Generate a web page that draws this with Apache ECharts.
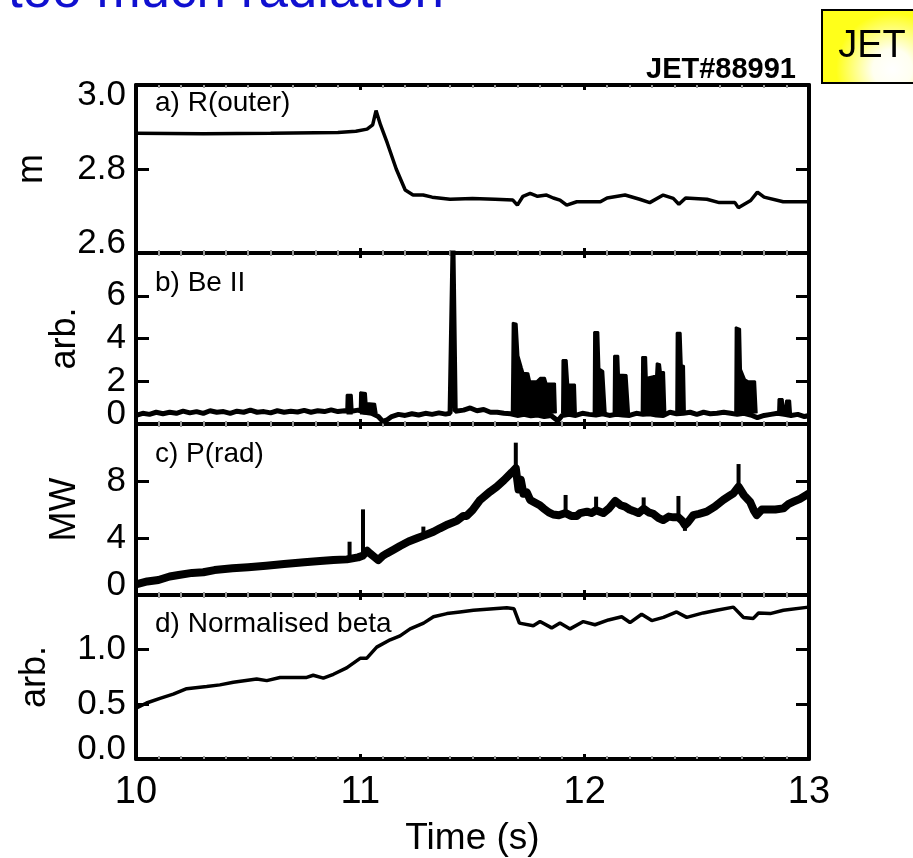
<!DOCTYPE html>
<html>
<head>
<meta charset="utf-8">
<script src="https://cdn.jsdelivr.net/npm/echarts@6/dist/echarts.min.js"></script>
<style>
html,body{margin:0;padding:0;background:#fff;}
#chart{width:913px;height:858px;}
</style>
</head>
<body>
<div id="chart"></div>
<script>
// ---------- data ----------
const xTicks = [10, 11, 12, 13];

// a) R(outer) [m]
const aTime = [10.00,10.30,10.60,10.90,10.98,11.03,11.055,11.07,11.09,11.12,11.16,11.20,11.235,11.28,11.32,11.40,11.50,11.60,11.68,11.70,11.725,11.757,11.79,11.83,11.86,11.89,11.92,11.965,12.07,12.10,12.18,12.245,12.29,12.35,12.395,12.42,12.45,12.545,12.60,12.67,12.685,12.74,12.77,12.80,12.885,13.00];
const aVal  = [2.885,2.884,2.885,2.887,2.890,2.895,2.905,2.939,2.905,2.862,2.800,2.750,2.738,2.738,2.733,2.728,2.730,2.728,2.726,2.714,2.735,2.742,2.735,2.738,2.731,2.726,2.714,2.722,2.722,2.731,2.738,2.728,2.720,2.738,2.730,2.716,2.731,2.728,2.720,2.720,2.708,2.725,2.745,2.733,2.722,2.722];

// b) Be II baseline [arb.]
const bTime = [10.00,10.03,10.06,10.09,10.12,10.15,10.18,10.21,10.24,10.27,10.30,10.33,10.36,10.39,10.42,10.45,10.48,10.51,10.54,10.57,10.60,10.63,10.66,10.69,10.72,10.75,10.78,10.81,10.84,10.87,10.90,10.93,10.96,10.99,11.02,11.05,11.08,11.10,11.12,11.14,11.17,11.20,11.23,11.26,11.29,11.32,11.35,11.38,11.40,11.408,11.413,11.418,11.423,11.46,11.49,11.52,11.55,11.58,11.61,11.64,11.67,11.70,11.73,11.76,11.79,11.82,11.85,11.88,11.90,11.93,11.96,11.99,12.02,12.05,12.08,12.11,12.14,12.17,12.20,12.23,12.26,12.29,12.32,12.35,12.38,12.41,12.44,12.47,12.50,12.53,12.56,12.59,12.62,12.65,12.68,12.71,12.74,12.77,12.80,12.83,12.86,12.89,12.92,12.95,12.98,13.00];
const bVal  = [0.40,0.50,0.45,0.55,0.48,0.55,0.50,0.60,0.52,0.58,0.50,0.62,0.55,0.58,0.50,0.60,0.55,0.65,0.55,0.58,0.52,0.62,0.55,0.60,0.56,0.64,0.55,0.62,0.58,0.66,0.58,0.62,0.60,0.65,0.55,0.50,0.35,0.12,0.20,0.35,0.45,0.40,0.48,0.42,0.50,0.45,0.52,0.46,0.50,0.50,8.20,8.20,0.60,0.65,0.75,0.62,0.68,0.55,0.55,0.50,0.48,0.40,0.45,0.38,0.42,0.35,0.40,0.15,0.40,0.45,0.40,0.50,0.45,0.42,0.48,0.40,0.45,0.42,0.40,0.50,0.45,0.48,0.42,0.40,0.55,0.48,0.50,0.55,0.45,0.55,0.48,0.50,0.55,0.50,0.45,0.50,0.42,0.30,0.40,0.45,0.50,0.45,0.40,0.45,0.35,0.40];

// b) Be II bursts (envelopes, null separates bursts)
const bBurstTime = [10.937,10.939,10.962,10.966,null,
  10.997,10.999,11.025,11.028,11.066,11.073,null,
  11.675,11.679,11.697,11.705,11.720,11.727,11.749,11.757,11.786,11.801,11.823,11.830,11.868,11.872,null,
  11.899,11.901,11.920,11.927,11.957,11.961,null,
  12.040,12.042,12.061,12.066,12.083,12.094,null,
  12.129,12.131,12.150,12.153,12.187,12.198,null,
  12.254,12.256,12.274,12.277,12.306,12.318,12.321,12.336,12.340,12.354,12.360,null,
  12.408,12.410,12.428,12.433,12.443,12.447,null,
  12.671,12.673,12.693,12.697,12.715,12.730,12.760,12.767,null,
  12.862,12.864,12.883,12.889,12.896,12.898,12.916,12.920];
const bBurstVal = [0.6,1.37,1.37,0.6,null,
  0.6,1.48,1.45,0.98,0.95,0.5,null,
  0.5,4.74,4.69,3.19,2.64,2.40,2.37,2.00,2.00,2.16,2.16,1.90,1.90,0.5,null,
  0.5,2.99,2.99,1.85,1.85,0.5,null,
  0.5,4.30,4.30,2.59,2.48,0.5,null,
  0.5,3.19,3.19,2.32,2.29,0.5,null,
  0.5,3.14,3.14,2.16,2.24,2.24,2.84,2.80,2.43,2.43,0.5,null,
  0.5,4.27,4.27,2.75,2.72,0.5,null,
  0.5,4.53,4.45,2.56,2.09,2.00,2.00,0.5,null,
  0.5,1.17,1.17,0.5,0.5,1.10,1.10,0.5];

// c) P(rad) [MW] main trace
const cTime = [10.00,10.05,10.10,10.15,10.19,10.25,10.30,10.35,10.43,10.50,10.58,10.66,10.75,10.82,10.88,10.94,10.99,11.01,11.03,11.043,11.06,11.08,11.10,11.118,11.15,11.177,11.215,11.252,11.28,11.326,11.355,11.39,11.43,11.459,11.474,11.50,11.534,11.578,11.608,11.64,11.675,11.693,11.705,11.715,11.727,11.742,11.757,11.771,11.80,11.816,11.84,11.86,11.885,11.915,11.94,11.965,11.98,12.01,12.03,12.051,12.083,12.11,12.136,12.16,12.18,12.20,12.217,12.24,12.263,12.285,12.306,12.33,12.35,12.375,12.396,12.418,12.435,12.447,12.46,12.485,12.51,12.544,12.58,12.618,12.645,12.663,12.686,12.71,12.737,12.755,12.767,12.79,12.812,12.85,12.886,12.91,12.931,12.96,13.00];
const cVal  = [0.75,0.95,1.05,1.30,1.40,1.55,1.60,1.75,1.87,1.95,2.05,2.17,2.30,2.38,2.46,2.50,2.64,2.75,3.10,2.92,2.70,2.45,2.75,2.92,3.20,3.44,3.75,3.98,4.15,4.44,4.68,4.95,5.20,5.55,5.55,5.95,6.67,7.25,7.60,8.05,8.60,8.90,7.40,8.10,7.10,7.20,6.67,6.55,6.30,6.08,5.80,5.65,5.60,5.75,5.55,5.55,5.75,5.85,5.75,5.95,5.75,6.10,6.60,6.30,6.20,6.00,5.90,5.75,6.05,5.80,5.70,5.40,5.26,5.50,5.45,5.45,5.20,4.90,5.10,5.61,5.70,5.85,6.20,6.67,6.95,7.13,7.60,7.00,6.55,5.90,5.61,6.00,6.00,6.00,6.08,6.40,6.55,6.75,7.13];
// c) P(rad) narrow spikes (pairs: foot, tip; null separates)
const cSpikeTime = [10.952,10.952,null,11.012,11.012,null,11.281,11.281,null,11.693,11.693,null,11.915,11.915,null,12.051,12.051,null,12.263,12.263,null,12.418,12.418,null,12.447,12.447,null,12.686,12.686];
const cSpikeVal  = [2.50,3.74,null,2.75,6.01,null,4.15,4.80,null,8.90,10.69,null,5.75,7.02,null,5.95,6.90,null,6.05,6.85,null,5.45,6.95,null,5.20,4.50,null,7.60,9.19];

// d) Normalised beta [arb.]
const dTime = [10.003,10.047,10.107,10.166,10.226,10.315,10.374,10.434,10.538,10.583,10.642,10.761,10.79,10.835,10.88,10.939,10.999,11.028,11.073,11.133,11.177,11.222,11.282,11.326,11.386,11.444,11.504,11.593,11.653,11.685,11.709,11.771,11.801,11.853,11.89,11.935,11.994,12.046,12.106,12.165,12.202,12.254,12.299,12.351,12.41,12.455,12.529,12.589,12.663,12.708,12.752,12.775,12.827,12.886,12.998];
const dVal  = [0.468,0.512,0.555,0.593,0.643,0.664,0.678,0.702,0.731,0.717,0.746,0.746,0.766,0.740,0.775,0.833,0.921,0.921,1.023,1.090,1.126,1.190,1.243,1.301,1.330,1.345,1.360,1.374,1.383,1.374,1.243,1.219,1.257,1.199,1.243,1.190,1.257,1.228,1.272,1.301,1.248,1.324,1.266,1.295,1.345,1.295,1.336,1.360,1.389,1.295,1.286,1.336,1.330,1.360,1.389];

// y-axis settings per panel
const panelNames  = ['a) R(outer)', 'b) Be II', 'c) P(rad)', 'd) Normalised beta'];
const yUnits      = ['m', 'arb.', 'MW', 'arb.'];
const yMin        = [2.6, 0, 0, 0];
const yMax        = [3.0, 8, 12, 1.5];
const yInterval   = [0.2, 2, 4, 0.5];
const yDecimals   = [1, 0, 0, 1];

// ---------- layout ----------
const gridTop    = [85, 253, 424, 595];
const gridHeight = [168, 171, 171, 170];
const nameGaps   = [86, 53, 53, 83];
const labelY     = [103, 283, 454, 624];
const SANS = '"Liberation Sans", Arial, Helvetica, sans-serif';
const TICK_FONT = 35;

const zip = (t, v) => t.map((x, i) => [x, v[i]]);
const splitSegs = (t, v) => {
  const out = []; let s = [];
  t.forEach((x, i) => {
    if (x === null) { if (s.length) out.push(s); s = []; }
    else s.push([x, v[i]]);
  });
  if (s.length) out.push(s);
  return out;
};

const grids = [], xAxes = [], yAxes = [], series = [];
for (let i = 0; i < 4; i++) {
  grids.push({left: 136, right: 104, top: gridTop[i], height: gridHeight[i]});
  const xCommon = {
    type: 'value', gridIndex: i, min: xTicks[0], max: xTicks[xTicks.length - 1], interval: 1,
    axisLine: {show: true, onZero: false, lineStyle: {color: '#000', width: 4}},
    axisTick: {show: true, inside: true, length: 5, lineStyle: {color: '#000', width: 3}},
    minorTick: {show: true, splitNumber: 10, length: 3, lineStyle: {color: '#999', width: 2}},
    splitLine: {show: false}
  };
  xAxes.push(Object.assign({}, xCommon, {
    position: 'bottom',
    axisLabel: {show: i === 3, fontSize: 38, margin: 15, color: '#000', fontFamily: SANS},
    name: i === 3 ? 'Time (s)' : '', nameLocation: 'middle', nameGap: 61,
    nameTextStyle: {fontSize: 37, color: '#000', fontFamily: SANS}
  }));
  xAxes.push(Object.assign({}, xCommon, {position: 'top', axisLabel: {show: false}}));
  const dec = yDecimals[i];
  const yCommon = {
    type: 'value', gridIndex: i, min: yMin[i], max: yMax[i], interval: yInterval[i],
    axisLine: {show: true, onZero: false, lineStyle: {color: '#000', width: 4}},
    axisTick: {show: true, inside: true, length: 13, lineStyle: {color: '#000', width: 3}},
    splitLine: {show: false}
  };
  // main left axis: all labels except the minimum
  yAxes.push(Object.assign({}, yCommon, {
    position: 'left',
    axisLabel: {
      show: true, fontSize: TICK_FONT, lineHeight: 20, color: '#000', fontFamily: SANS, margin: 10,
      showMaxLabel: i === 0, showMinLabel: false, hideOverlap: false,
      verticalAlignMaxLabel: 'top',
      formatter: v => v.toFixed(dec)
    },
    name: yUnits[i], nameLocation: 'middle', nameRotate: 90, nameGap: nameGaps[i],
    nameTextStyle: {fontSize: 36, color: '#000', fontFamily: SANS}
  }));
  // right mirror axis
  yAxes.push(Object.assign({}, yCommon, {position: 'right', axisLabel: {show: false}}));
  // label-only axis for the minimum label, lifted above the corner
  yAxes.push({
    type: 'value', gridIndex: i, min: yMin[i], max: yMax[i], interval: yMax[i] - yMin[i],
    position: 'left',
    axisLine: {show: false}, axisTick: {show: false}, splitLine: {show: false},
    axisLabel: {
      show: true, fontSize: TICK_FONT, lineHeight: 20, color: '#000', fontFamily: SANS, margin: 10,
      showMinLabel: true, showMaxLabel: false, verticalAlignMinLabel: 'bottom',
      formatter: v => v.toFixed(dec)
    }
  });
}

const lineBase = {type: 'line', showSymbol: false, symbol: 'none', silent: true, clip: true};
const yIdx = i => 3 * i;
series.push(Object.assign({}, lineBase, {xAxisIndex: 0, yAxisIndex: yIdx(0), data: zip(aTime, aVal), lineStyle: {color: '#000', width: 3.5}}));
series.push(Object.assign({}, lineBase, {xAxisIndex: 2, yAxisIndex: yIdx(1), data: zip(bTime, bVal), lineStyle: {color: '#000', width: 5, join: 'bevel'}}));
splitSegs(bBurstTime, bBurstVal).forEach(s => {
  series.push(Object.assign({}, lineBase, {
    xAxisIndex: 2, yAxisIndex: yIdx(1), data: s,
    lineStyle: {color: '#000', width: 2, join: 'bevel'},
    areaStyle: {color: '#000', opacity: 1, origin: 0.45}
  }));
});
series.push(Object.assign({}, lineBase, {xAxisIndex: 4, yAxisIndex: yIdx(2), data: zip(cTime, cVal), lineStyle: {color: '#000', width: 8, join: 'round'}}));
splitSegs(cSpikeTime, cSpikeVal).forEach(s => {
  series.push(Object.assign({}, lineBase, {
    xAxisIndex: 4, yAxisIndex: yIdx(2), data: s,
    lineStyle: {color: '#000', width: 4, cap: 'butt'}
  }));
});
series.push(Object.assign({}, lineBase, {xAxisIndex: 6, yAxisIndex: yIdx(3), data: zip(dTime, dVal), lineStyle: {color: '#000', width: 3.5}}));

const graphics = [
  {type: 'text', x: 8, y: -8, style: {text: 'too much radiation', fontSize: 53, fontFamily: SANS, fill: '#1010d0', align: 'left', verticalAlign: 'middle'}},
  {type: 'rect', shape: {x: 822, y: 10, width: 100, height: 73},
   style: {fill: new echarts.graphic.RadialGradient(0.7, 0.8, 0.75, [{offset: 0, color: '#ffffff'}, {offset: 0.35, color: '#fffff0'}, {offset: 1, color: '#ffff1a'}]), stroke: '#000', lineWidth: 2}},
  {type: 'text', x: 872, y: 47, style: {text: 'JET', fontSize: 38, fontFamily: '"Liberation Sans Narrow", "Liberation Sans", sans-serif', fill: '#000', align: 'center', verticalAlign: 'middle'}},
  {type: 'text', x: 796, y: 70, style: {text: 'JET#88991', fontSize: 29, fontWeight: 'bold', fontFamily: SANS, fill: '#000', align: 'right', verticalAlign: 'middle'}}
];
panelNames.forEach((n, i) => {
  graphics.push({type: 'text', x: 155, y: labelY[i], style: {text: n, fontSize: 28, fontFamily: SANS, fill: '#000', align: 'left', verticalAlign: 'middle'}});
});

const chart = echarts.init(document.getElementById('chart'), null, {renderer: 'canvas'});
chart.setOption({
  animation: false,
  backgroundColor: '#fff',
  grid: grids, xAxis: xAxes, yAxis: yAxes, series: series, graphic: graphics
});
</script>
</body>
</html>
